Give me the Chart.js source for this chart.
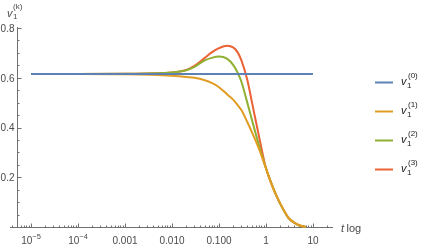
<!DOCTYPE html>
<html>
<head>
<meta charset="utf-8">
<script src="https://cdn.jsdelivr.net/npm/chart.js@4.4.0/dist/chart.umd.min.js"></script>
<style>
html, body { margin: 0; padding: 0; background: #fff; }
#wrap { width: 425px; height: 249px; }
</style>
</head>
<body>
<div id="wrap"><canvas id="chart" width="425" height="249"></canvas></div>
<script>
// values
const tFlat = [1e-5, 10];
const v0 = [0.615, 0.615];
const tGrid = [1e-5, 1e-4, 1e-3, 0.01, 0.02, 0.03, 0.05, 0.07, 0.1, 0.15, 0.2, 0.25, 0.3, 0.4, 0.5, 0.7, 1, 1.5, 2, 3, 4, 5, 7];
const v1 = [0.615, 0.615, 0.614, 0.608, 0.603, 0.600, 0.590, 0.579, 0.562, 0.533, 0.512, 0.490, 0.470, 0.422, 0.382, 0.317, 0.236, 0.144, 0.096, 0.038, 0.018, 0.008, 0];
const v2 = [0.615, 0.615, 0.616, 0.621, 0.630, 0.644, 0.670, 0.680, 0.685, 0.676, 0.652, 0.620, 0.584, 0.500, 0.432, 0.332, 0.236, 0.146, 0.094, 0.037, 0.017, 0.007, 0];
const v3 = [0.615, 0.615, 0.616, 0.621, 0.631, 0.648, 0.680, 0.702, 0.719, 0.729, 0.722, 0.702, 0.670, 0.592, 0.504, 0.370, 0.236, 0.146, 0.094, 0.037, 0.017, 0.007, 0];
const seriesNames = ['(0)', '(1)', '(2)', '(3)'];
const colors = ['#5e81b5', '#e19c24', '#8fb032', '#eb6235'];
const xTickValues = [1e-5, 1e-4, 1e-3, 0.01, 0.1, 1, 10];
const xTickBase = ['10', '10', '0.001', '0.010', '0.100', '1', '10'];
const xTickSup = ['\u22125', '\u22124', '', '', '', '', ''];
const yTickValues = [0.2, 0.4, 0.6, 0.8];
const yTickLabels = ['0.2', '0.4', '0.6', '0.8'];

const xMin = Math.pow(10, -5.447);
const xMax = Math.pow(10, 1.426);
const yAxisAt = Math.pow(10, -5.298);
const axisColor = '#707070';
const textColor = '#4a4a4a';
const fontFam = '"Liberation Sans", Arial, sans-serif';

function pts(xs, ys) { return xs.map((x, i) => ({ x: x, y: ys[i] })); }
function isPow10(v) { const l = Math.log10(v); return Math.abs(l - Math.round(l)) < 1e-6; }

const axesPlugin = {
    id: 'axesPlugin',
    beforeDatasetsDraw(chart) {
        const ctx = chart.ctx, xs = chart.scales.x, ys = chart.scales.y;
        const y0 = Math.round(ys.getPixelForValue(0)) + 0.5;
        const xa = Math.round(xs.getPixelForValue(yAxisAt)) + 0.5;
        ctx.save();
        ctx.strokeStyle = axisColor;
        ctx.lineWidth = 1;
        ctx.beginPath();
        ctx.moveTo(xs.left, y0); ctx.lineTo(xs.right, y0);
        ctx.moveTo(xa, ys.getPixelForValue(0.8) - 1); ctx.lineTo(xa, y0);
        // x ticks
        xs.ticks.forEach(t => {
            const px = Math.round(xs.getPixelForValue(t.value)) + 0.5;
            const len = isPow10(t.value) ? 4 : 2;
            ctx.moveTo(px, y0); ctx.lineTo(px, y0 - len);
        });
        // y ticks
        ys.ticks.forEach(t => {
            if (t.value <= 0) return;
            const py = Math.round(ys.getPixelForValue(t.value)) + 0.5;
            const major = Math.abs(t.value * 5 - Math.round(t.value * 5)) < 1e-6;
            ctx.moveTo(xa, py); ctx.lineTo(xa + (major ? 4 : 2), py);
        });
        ctx.stroke();

        ctx.fillStyle = textColor;
        // y tick labels
        ctx.font = '10px ' + fontFam;
        ctx.textAlign = 'right';
        ctx.textBaseline = 'middle';
        yTickValues.forEach((v, i) => {
            ctx.fillText(yTickLabels[i], xa - 3, ys.getPixelForValue(v) + 1);
        });
        // x tick labels
        ctx.textAlign = 'left';
        ctx.textBaseline = 'alphabetic';
        xTickValues.forEach((v, i) => {
            const px = xs.getPixelForValue(v);
            ctx.font = '10px ' + fontFam;
            const wb = ctx.measureText(xTickBase[i]).width;
            ctx.font = '7.5px ' + fontFam;
            const ws = xTickSup[i] ? ctx.measureText(xTickSup[i]).width : 0;
            const left = px - (wb + ws) / 2;
            ctx.font = '10px ' + fontFam;
            ctx.fillText(xTickBase[i], left, y0 + 16);
            if (ws) {
                ctx.font = '7.5px ' + fontFam;
                ctx.fillText(xTickSup[i], left + wb, y0 + 11);
            }
        });

        // axis labels
        ctx.font = 'italic 11px ' + fontFam;
        ctx.fillText('t', 341, y0 + 4);
        ctx.font = '11px ' + fontFam;
        ctx.fillText('log', 346.5, y0 + 4);
        ctx.font = 'italic 11px ' + fontFam;
        ctx.fillText('v', 7, 17);
        ctx.font = '8px ' + fontFam;
        ctx.fillText('1', 13, 19);
        ctx.fillText('(k)', 13, 9);
        ctx.restore();
    },
    afterDraw(chart) {
        const ctx = chart.ctx;
        const rowY = [82, 111, 140, 169];
        ctx.save();
        seriesNames.forEach((name, i) => {
            const y = rowY[i];
            ctx.strokeStyle = colors[i];
            ctx.lineWidth = 2;
            ctx.beginPath(); ctx.moveTo(375, y + 0.5); ctx.lineTo(393, y + 0.5); ctx.stroke();
            ctx.fillStyle = '#222';
            ctx.textBaseline = 'alphabetic';
            ctx.font = 'italic 11px ' + fontFam;
            ctx.fillText('v', 401, y + 3);
            ctx.font = '8px ' + fontFam;
            ctx.fillText('1', 407, y + 6);
            ctx.fillText(name, 408, y - 4);
        });
        ctx.restore();
    }
};

const ctx = document.getElementById('chart').getContext('2d');
new Chart(ctx, {
    type: 'line',
    data: {
        datasets: [
            { data: pts(tFlat, v0), borderColor: colors[0] },
            { data: pts(tGrid, v1), borderColor: colors[1] },
            { data: pts(tGrid, v2), borderColor: colors[2] },
            { data: pts(tGrid, v3), borderColor: colors[3] }
        ].map(d => Object.assign(d, {
            borderWidth: 2, pointRadius: 0, fill: false,
            cubicInterpolationMode: 'monotone', clip: false
        }))
    },
    options: {
        responsive: false,
        animation: false,
        layout: { padding: { left: 0, right: 92, top: 28, bottom: 0 } },
        plugins: { legend: { display: false }, tooltip: { enabled: false } },
        scales: {
            x: {
                type: 'logarithmic',
                min: xMin, max: xMax,
                grid: { display: false, drawTicks: false },
                border: { display: false },
                afterFit: s => { s.height = 22; },
                afterBuildTicks: s => {
                    const ticks = [];
                    for (let k = -6; k <= 1; k++) {
                        for (let m = 1; m <= 9; m++) {
                            const v = m * Math.pow(10, k);
                            if (v >= xMin && v <= xMax) ticks.push({ value: v });
                        }
                    }
                    s.ticks = ticks;
                },
                ticks: { display: false, autoSkip: false }
            },
            y: {
                min: 0, max: 0.8,
                grid: { display: false, drawTicks: false },
                border: { display: false },
                afterFit: s => { s.width = 10; },
                afterBuildTicks: s => {
                    const ticks = [];
                    for (let i = 1; i <= 16; i++) ticks.push({ value: i * 0.05 });
                    s.ticks = ticks;
                },
                ticks: { display: false, autoSkip: false }
            }
        }
    },
    plugins: [axesPlugin]
});
</script>
</body>
</html>
